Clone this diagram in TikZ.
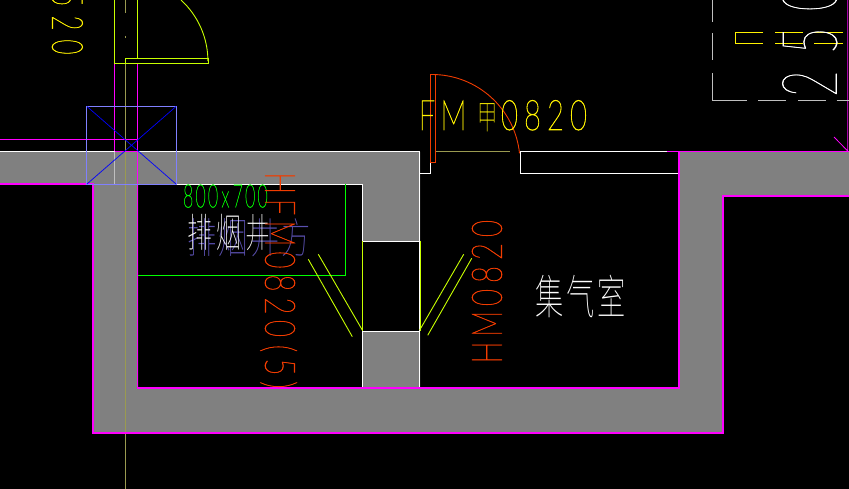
\documentclass[tikz,border=0pt]{standalone}
\usepackage{graphicx}
\usepackage{fontspec}
\newfontfamily\thinf[FakeBold=1.6]{Lato Hairline}
\newfontfamily\thinbig[FakeBold=0.6]{Lato Hairline}
\newfontfamily\cjkf{Noto Sans CJK SC Thin}
\newcommand\cel[3]{\makebox[#1pt][c]{\scalebox{#2}[1]{#3}}}
\definecolor{wallg}{HTML}{808080}
\definecolor{mag}{HTML}{FF00FF}
\definecolor{doory}{HTML}{C8FF00}
\definecolor{redt}{HTML}{F03C00}
\definecolor{olive}{HTML}{9A9A50}
\definecolor{lilac}{HTML}{8080FF}
\definecolor{purp}{HTML}{5A50B0}
\tikzset{
  wl/.style={white,line width=0.9pt},
  ml/.style={mag,line width=1pt},
  dl/.style={doory,line width=0.9pt},
  txt/.style={inner sep=0pt,outer sep=0pt},
  tw/.style={txt,anchor=base west}
}
\begin{document}
\begin{tikzpicture}[x=1pt,y=-1pt]
\useasboundingbox (0,0) rectangle (849,489);
\fill[black] (0,0) rectangle (849,489);
\fill[wallg] (0,152)--(420,152)--(420,241)--(362,241)--(362,184)--(138,184)--(138,388)--(362,388)--(362,331)--(420,331)--(420,388)--(679,388)--(679,152)--(849,152)--(849,196)--(723,196)--(723,433)--(93,433)--(93,184)--(0,184)--cycle;
% olive axis
\draw[olive,line width=.7pt] (125.5,0)--(125.5,13) (125.5,36)--(125.5,38) (125.5,60)--(125.5,489);
\draw[olive,line width=.8pt] (435,151.5)--(510,151.5);
% white wall edges
\draw[wl] (0,151.5)--(420,151.5) (419.7,151.5)--(419.7,388) (362,184)--(362,241) (362,241)--(420,241) (362,331)--(420,331) (362,331)--(362,388) (176,184)--(362,184);
\draw[wl] (420,173.5)--(430.5,173.5)--(430.5,163);
\draw[wl] (520,152)--(520,173.5)--(678,173.5) (520,151.5)--(667,151.5);
\draw[lightgray,line width=.8pt] (114.5,152)--(114.5,184);
% magenta
\draw[ml,line width=1.2pt] (0,184)--(93,184)--(93,433)--(723,433)--(723,196)--(849,196);
\draw[ml,line width=1.2pt] (137.7,184)--(137.7,388)--(679,388)--(679,152);
\draw[ml] (667,151.7)--(849,151.7);
\draw[ml,line width=.8pt] (114.5,151)--(114.5,63.3)--(137.5,63.3)--(137.5,184);
\draw[ml,line width=.8pt] (114.5,151)--(137.5,151);
\draw[ml,line width=.8pt] (0,139.5)--(137.5,139.5);
\draw[ml,line width=.8pt] (847.7,0)--(847.7,151) (834,137)--(847.7,151);
% green box
\draw[green,line width=.8pt] (138,275.3)--(345.7,275.3)--(345.7,184);
% purple shaft
\draw[lilac,line width=.9pt] (86.3,184.3)--(86.3,106.5)--(176.3,106.5)--(176.3,184.3)--cycle;
\draw[blue,line width=.7pt] (87,106.5)--(176,184) (176,106.5)--(87,184);
% doors
\draw[dl] (114.5,0)--(114.5,63.5)--(208.5,63.5)--(208.5,58.5)--(125.5,58.5)--(125.5,63);
\draw[dl] (137.5,0)--(137.5,58.5);
\draw[dl] (181,0) arc[start angle=-47.5,end angle=0,radius=83];
\draw[dl] (362,241)--(362,331) (420,241)--(420,331);
\draw[dl] (318.3,254.3)--(362.3,330) (308.3,259.3)--(352.3,336.7);
\draw[dl] (463.7,254.3)--(419.7,330) (471.7,258.3)--(427.7,335.3);
\draw[redt,line width=.9pt] (430.5,162.5)--(430.5,74.5)--(435,74.5)--(435,162.5)--cycle;
\draw[redt,line width=.9pt] (432,74.5) arc[start angle=-90,end angle=-6,radius=88];
% dashed box
\draw[lightgray,line width=.8pt] (712.3,0)--(712.3,22) (712.3,33)--(712.3,60) (712.3,73)--(712.3,100.3)--(746.7,100.3) (758,100.3)--(786,100.3) (798,100.3)--(826,100.3) (836.7,100.3)--(849,100.3);
% top right fragment of a rotated label
\draw[yellow,line width=.8pt] (763,32.3)--(735.3,32.3)--(735.3,43.3)--(763,43.3) (775,32.3)--(803,32.3) (775,43.3)--(803,43.3) (814,32.3)--(843,32.3) (814,43.3)--(843,43.3);
% texts
\node[tw,text=white,rotate=90] (t250) at (836.7,105.2) {\thinbig\fontsize{77}{77}\selectfont\cel{43}{.6}{2}\cel{43}{.6}{5}\cel{43}{.6}{0}};
\node[tw,text=yellow,rotate=-90] (t520) at (52.3,-13) {\thinf\fontsize{43}{43}\selectfont\cel{24}{.6}{5}\cel{24}{.6}{2}\cel{24}{.6}{0}};
\node[tw,text=purp] (tpurp) at (186,254) {\cjkf\fontsize{42}{42}\selectfont\cel{31.5}{.7}{排}\cel{31.5}{.7}{烟}\cel{31.5}{.7}{井}\cel{31.5}{.7}{方}};
\node[txt,text=white] (tpy) at (228.5,233) {\cjkf\fontsize{40}{40}\selectfont\cel{29}{.62}{排}\cel{29}{.62}{烟}\cel{29}{.62}{井}};
\node[txt,text=white] (tjq) at (580.5,296.5) {\cjkf\fontsize{47}{47}\selectfont\cel{31}{.6}{集}\cel{31}{.6}{气}\cel{31}{.6}{室}};
\node[tw,text=green] (tsize) at (182,207.3) {\thinf\fontsize{32}{32}\selectfont\cel{12.4}{.55}{8}\cel{12.4}{.55}{0}\cel{12.4}{.55}{0}\cel{12.4}{.55}{x}\cel{12.4}{.55}{7}\cel{12.4}{.55}{0}\cel{12.4}{.55}{0}};
\node[tw,text=yellow] (tfm) at (414,130) {\thinf\fontsize{42}{42}\selectfont\cel{26}{.7}{F}\cel{27}{.7}{M}\hspace{11pt}\makebox[20pt]{\cjkf\fontsize{34}{34}\selectfont\scalebox{.6}[1]{甲}}\cel{23}{.7}{0}\cel{23}{.7}{8}\cel{23}{.7}{2}\cel{23}{.7}{0}};
\node[tw,text=redt,rotate=90] (thm) at (501.7,366.5) {\thinf\fontsize{42}{42}\selectfont\cel{28}{.7}{H}\cel{29.5}{.7}{M}\cel{23}{.7}{0}\cel{23}{.7}{8}\cel{23}{.7}{2}\cel{23}{.7}{0}};
\begin{scope}
\clip (200,150) rectangle (320,388);
\node[tw,text=redt,rotate=-90] (thf) at (265.3,171.5) {\thinf\fontsize{42}{42}\selectfont\cel{23.5}{.7}{H}\cel{24}{.7}{F}\cel{29}{.7}{M}\cel{24}{.7}{0}\cel{22}{.7}{8}\cel{24}{.7}{2}\cel{21}{.7}{0}\cel{19}{.7}{(}\cel{18}{.7}{5}\cel{18}{.7}{)}};
\end{scope}
\end{tikzpicture}
\end{document}
